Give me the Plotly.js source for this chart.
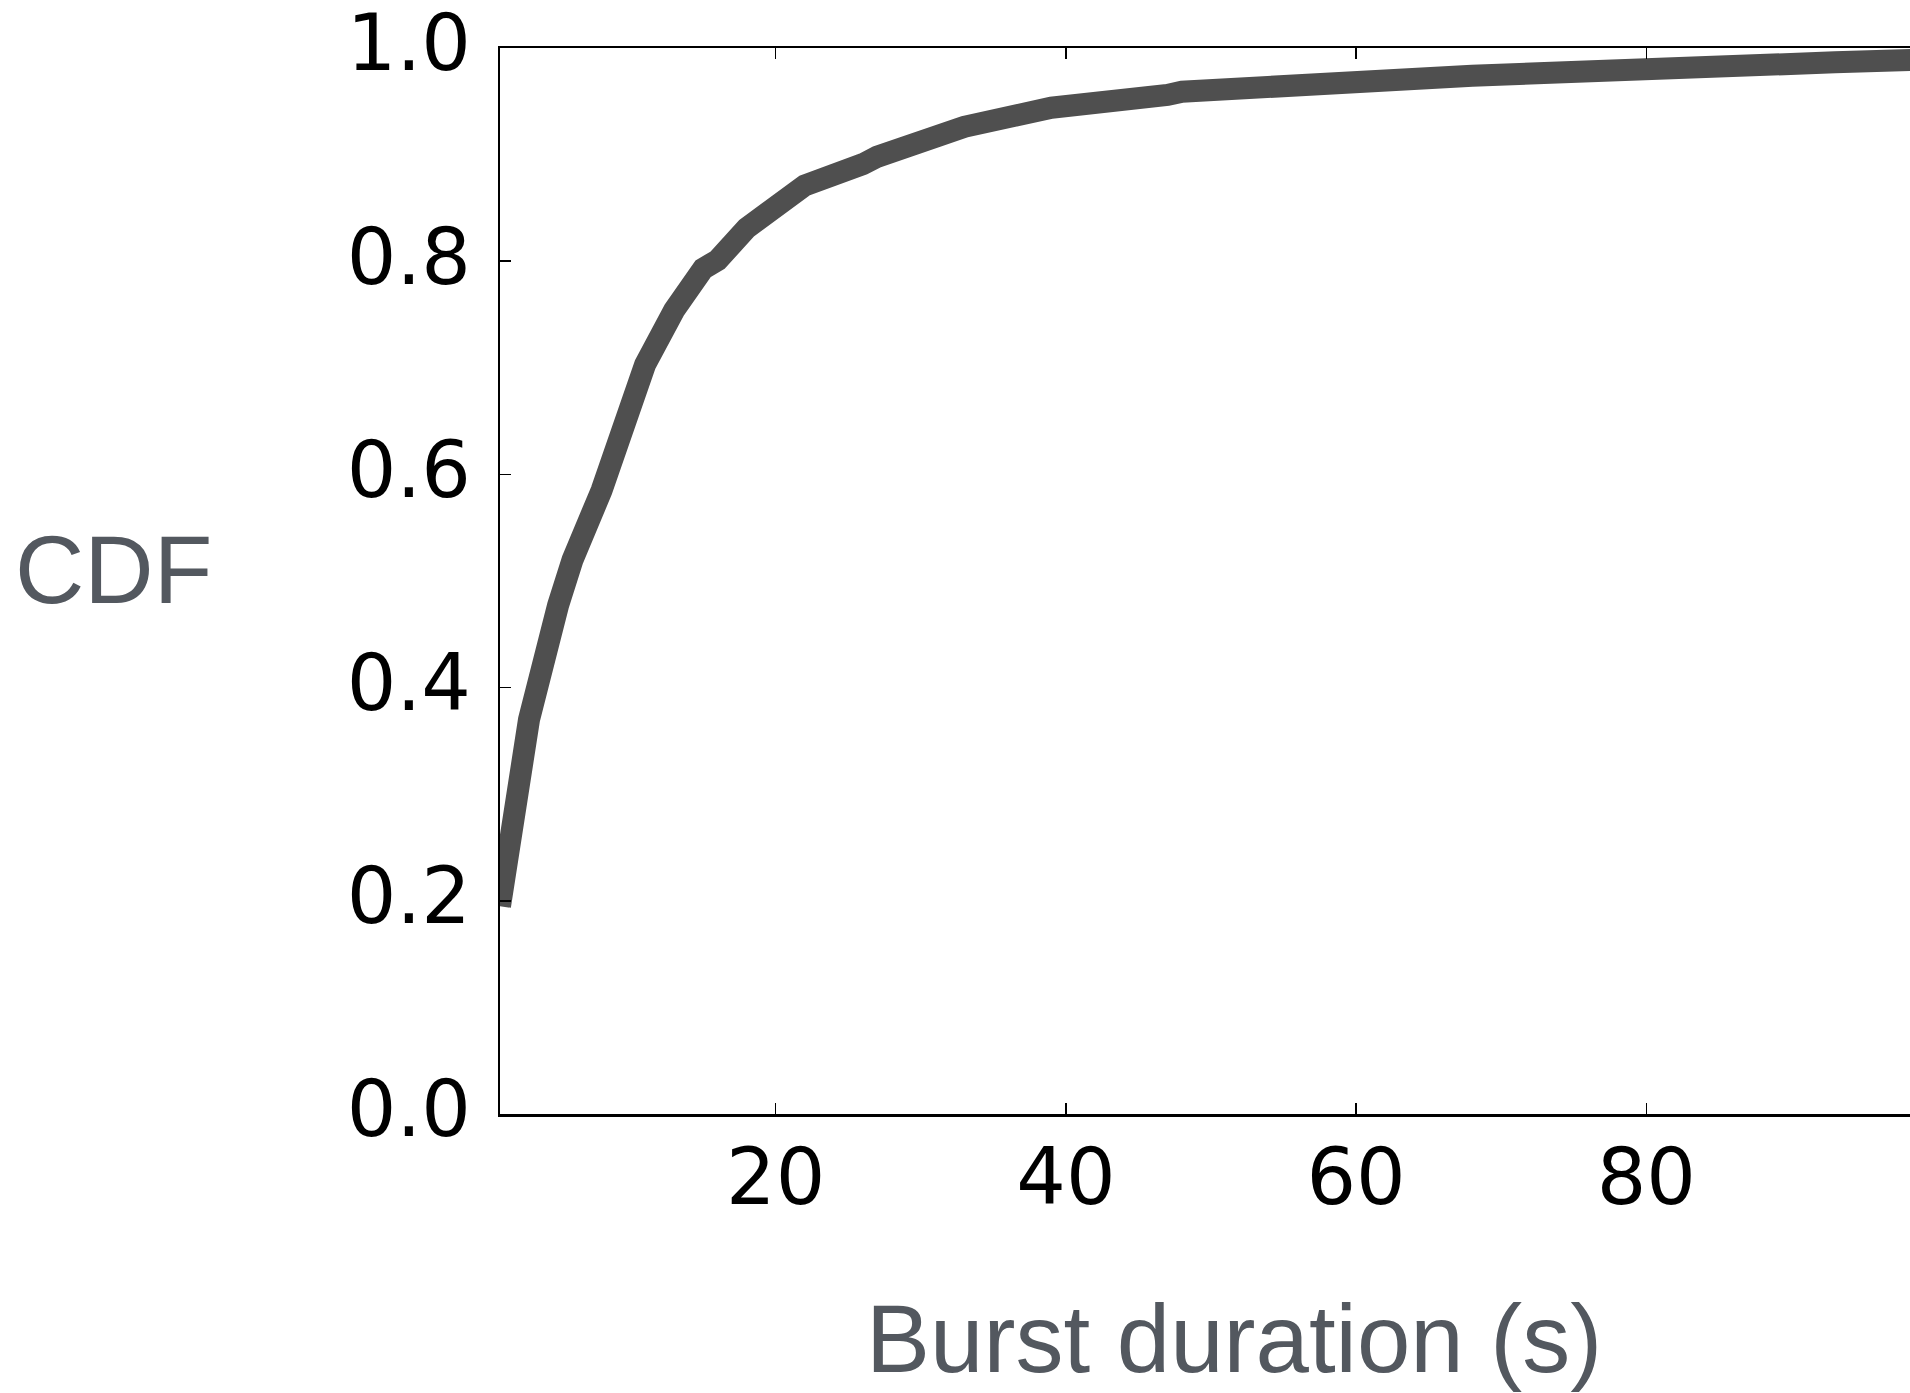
<!DOCTYPE html>
<html>
<head>
<meta charset="utf-8">
<script src="https://cdn.plot.ly/plotly-3.0.1.min.js"></script>
<style>
html, body { margin: 0; padding: 0; overflow: hidden; background: #ffffff; }
#chart { width: 1922px; height: 1393px; }
</style>
</head>
<body>
<div id="chart"></div>
<script>
// Burst duration (s) vs CDF
const burstDuration = [1, 2, 3, 5, 6, 8, 9, 11, 13, 15, 16, 18, 22, 23, 26, 27, 33, 39, 41, 44, 47, 48, 51, 68, 93, 99];
const cdfValues = [0.195, 0.302, 0.37, 0.477, 0.52, 0.585, 0.63, 0.703, 0.754, 0.793, 0.801, 0.831, 0.871, 0.875, 0.891, 0.898, 0.926, 0.944, 0.946, 0.953, 0.956, 0.959, 0.962, 0.974, 0.9866, 0.989];

const xTickVals = [20, 40, 60, 80];
const xTickText = ['20', '40', '60', '80'];
const yTickVals = [0, 0.2, 0.4, 0.6, 0.8, 1.0];
const yTickText = ['0.0', '0.2', '0.4', '0.6', '0.8', '1.0'];

const xTitle = 'Burst duration (s)';
const yTitle = 'CDF';

const tickFont = { family: 'DejaVu Sans', size: 78, color: '#000000' };
const titleFont = { family: 'Liberation Sans, Arial, sans-serif', size: 96, color: '#53585f' };

const trace = {
  type: 'scatter',
  mode: 'lines',
  x: burstDuration,
  y: cdfValues,
  line: { color: '#4f4f4f', width: 22 },
  hoverinfo: 'skip'
};

const axisCommon = {
  showgrid: false,
  zeroline: false,
  showline: true,
  linecolor: '#000000',
  linewidth: 2.5,
  mirror: 'ticks',
  ticks: 'inside',
  ticklen: 11,
  tickwidth: 1.5,
  tickcolor: '#000000',
  tickfont: tickFont,
  tickmode: 'array',
  ticklabeloverflow: 'allow',
  fixedrange: true
};

const layout = {
  width: 1922,
  height: 1393,
  margin: { l: 500, r: 0, t: 48, b: 279, pad: 0 },
  paper_bgcolor: '#ffffff',
  plot_bgcolor: '#ffffff',
  showlegend: false,
  xaxis: Object.assign({}, axisCommon, {
    range: [1, 99],
    tickvals: xTickVals,
    ticktext: xTickText,
    ticklabelstandoff: -6
  }),
  yaxis: Object.assign({}, axisCommon, {
    range: [0, 1],
    tickvals: yTickVals,
    ticktext: yTickText,
    ticklabelstandoff: 11,
    ticklabelshift: -5
  }),
  annotations: [
    {
      text: yTitle,
      xref: 'paper', yref: 'paper',
      x: (13 - 500) / 1422, y: (1114 - 569) / 1066,
      xanchor: 'left', yanchor: 'middle',
      showarrow: false,
      font: titleFont
    },
    {
      text: xTitle,
      xref: 'paper', yref: 'paper',
      x: (1234 - 500) / 1422, y: (1114 - 1338) / 1066,
      xanchor: 'center', yanchor: 'middle',
      showarrow: false,
      font: titleFont
    }
  ]
};

Plotly.newPlot('chart', [trace], layout, { displayModeBar: false, staticPlot: true });
</script>
</body>
</html>
